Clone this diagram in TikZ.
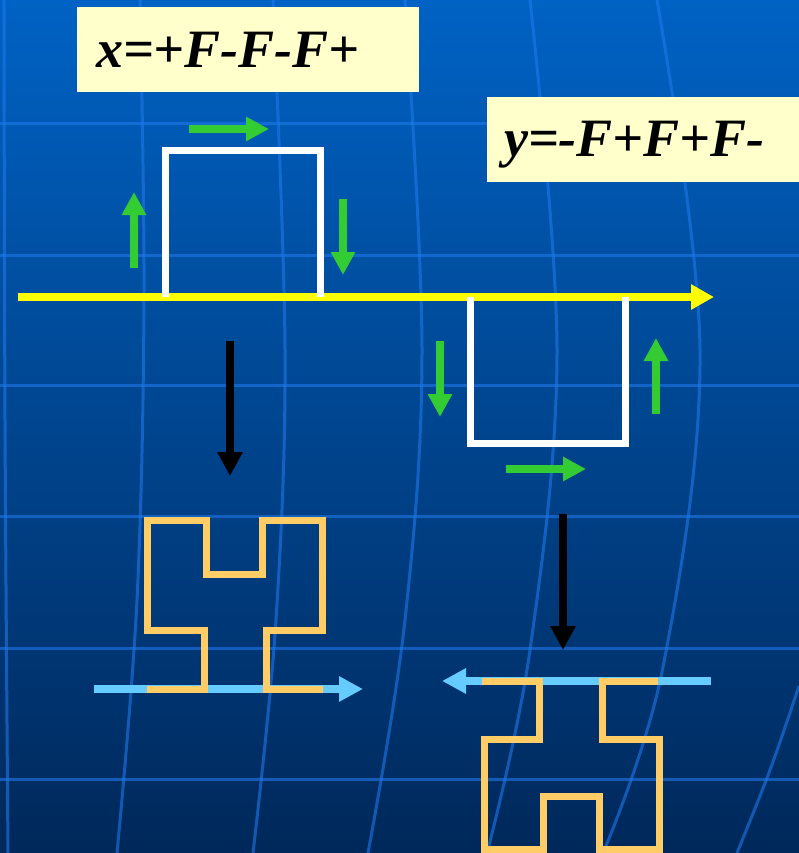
\documentclass[tikz,border=0pt]{standalone}
\usepackage{fontspec}
\setmainfont{Liberation Serif}
\usetikzlibrary{arrows.meta}
\definecolor{bgtop}{RGB}{0,98,196}
\definecolor{bgbot}{RGB}{0,40,90}
\definecolor{gridc}{RGB}{30,120,235}
\definecolor{boxc}{RGB}{255,255,204}
\definecolor{orangec}{RGB}{255,204,102}
\definecolor{lightbluec}{RGB}{102,204,255}
\definecolor{greenc}{RGB}{51,204,51}
\definecolor{yellowc}{RGB}{255,255,0}
\tikzset{
  gridline/.style={draw=gridc, opacity=0.6, line width=3pt},
  ftext/.style={anchor=base west, inner sep=0pt, font=\fontsize{54}{60}\selectfont\bfseries\itshape},
  axisline/.style={draw=yellowc, line width=7.5pt, -{Triangle[length=23pt,width=24pt]}},
  motif/.style={draw=white, line width=7pt, line join=miter},
  turtle/.style={draw=greenc, line width=7.5pt, -{Triangle[length=23pt,width=23pt]}},
  derive/.style={draw=black, line width=8.5pt, -{Triangle[length=24pt,width=24pt]}},
  baseline/.style={draw=lightbluec, line width=7.5pt, -{Triangle[length=24pt,width=24pt]}},
  curve/.style={draw=orangec, line width=7pt, line join=miter}
}
\begin{document}
\begin{tikzpicture}[x=1pt,y=-1pt]
% background
\shade[top color=bgtop, bottom color=bgbot] (0,0) rectangle (799,853);
\useasboundingbox (0,0) rectangle (799,853);
% horizontal grid lines
\foreach \yy in {124,255,385,516,648,779}
  \path[gridline] (0,\yy) -- (799,\yy);
% curved meridians
\path[gridline] plot[smooth, tension=0.6] coordinates {(4,0) (5,420) (8,853)};
\path[gridline] plot[smooth, tension=0.6] coordinates {(140,0) (144,300) (137,600) (117,853)};
\path[gridline] plot[smooth, tension=0.6] coordinates {(273,0) (285,350) (276,620) (253,853)};
\path[gridline] plot[smooth, tension=0.6] coordinates {(405,0) (422,350) (405,620) (368,853)};
\path[gridline] plot[smooth, tension=0.6] coordinates {(530,0) (557,350) (530,650) (487,853)};
\path[gridline] plot[smooth, tension=0.6] coordinates {(657,0) (700,350) (663,667) (603,853)};
\path[gridline] plot[smooth, tension=0.6] coordinates {(799,686) (770,770) (737,853)};
% formula boxes
\fill[boxc] (77,7) rectangle (419,92);
\fill[boxc] (487,97) rectangle (799,182);
\node[ftext] (fx) at (96,68) {x=+F-F-F+};
\node[ftext] (fy) at (504,157) {y=-F+F+F-};
% axis
\coordinate (a0) at (18,297);
\coordinate (a1) at (714,297);
\path[axisline] (a0) -- (a1);
% upper motif
\coordinate (u1) at (165,297);
\coordinate (u2) at (165,151);
\coordinate (u3) at (320,151);
\coordinate (u4) at (320,297);
\path[motif] (u1) -- (u2) -- (u3) -- (u4);
% lower motif
\coordinate (l1) at (470,297);
\coordinate (l2) at (470,443);
\coordinate (l3) at (625,443);
\coordinate (l4) at (625,297);
\path[motif] (l1) -- (l2) -- (l3) -- (l4);
% green turtle arrows
\coordinate (g1s) at (134,268); \coordinate (g1e) at (134,192);
\coordinate (g2s) at (189,129); \coordinate (g2e) at (269,129);
\coordinate (g3s) at (343,199); \coordinate (g3e) at (343,275);
\coordinate (g4s) at (440,341); \coordinate (g4e) at (440,417);
\coordinate (g5s) at (506,469); \coordinate (g5e) at (586,469);
\coordinate (g6s) at (656,414); \coordinate (g6e) at (656,338);
\path[turtle] (g1s) -- (g1e);
\path[turtle] (g2s) -- (g2e);
\path[turtle] (g3s) -- (g3e);
\path[turtle] (g4s) -- (g4e);
\path[turtle] (g5s) -- (g5e);
\path[turtle] (g6s) -- (g6e);
% black derivation arrows
\coordinate (b1s) at (230,341); \coordinate (b1e) at (230,476);
\coordinate (b2s) at (563,514); \coordinate (b2e) at (563,650);
\path[derive] (b1s) -- (b1e);
\path[derive] (b2s) -- (b2e);
% left result
\coordinate (lb0) at (94,689); \coordinate (lb1) at (363,689);
\path[baseline] (lb0) -- (lb1);
\path[curve] (147,689) -- (204,689) -- (204,630) -- (147,630) -- (147,520)
  -- (206,520) -- (206,574) -- (262,574) -- (262,520) -- (322,520)
  -- (322,630) -- (266,630) -- (266,689) -- (323,689);
% right result
\coordinate (rb0) at (711,681); \coordinate (rb1) at (442,681);
\path[baseline] (rb0) -- (rb1);
\path[curve] (482,681) -- (539,681) -- (539,739) -- (484,739) -- (484,849)
  -- (543,849) -- (543,796) -- (599,796) -- (599,849) -- (659,849)
  -- (659,739) -- (602,739) -- (602,681) -- (658,681);
\end{tikzpicture}
\end{document}
